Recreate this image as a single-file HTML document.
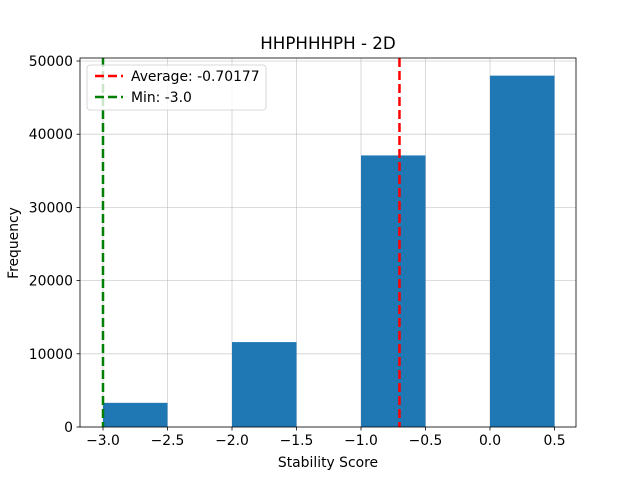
<!DOCTYPE html>
<html><head><meta charset="utf-8"><style>
body{margin:0;background:#fff;font-family:"DejaVu Sans","Liberation Sans",sans-serif;}
svg text{font-family:"DejaVu Sans","Liberation Sans",sans-serif;}
</style></head><body>
<svg id="c" width="640" height="480" xmlns="http://www.w3.org/2000/svg">
<rect width="640" height="480" fill="#fff"/>
</svg>
<script>
const binStarts=[-3.0,-2.0,-1.0,0.0];
const binWidth=0.5;
const frequencies=[3300,11600,37100,48000];
const xTicks=[-3.0,-2.5,-2.0,-1.5,-1.0,-0.5,0.0,0.5];
const xTickLabels=["−3.0","−2.5","−2.0","−1.5","−1.0","−0.5","0.0","0.5"];
const yTicks=[0,10000,20000,30000,40000,50000];
const avgValue=-0.70177;
const minValue=-3.0;

const L=80,R=576,T=58,B=427;
const x=v=>103+(v-(-3.0))*129;
const y=v=>427-v*0.00732;
const svg=document.getElementById('c');
const NS='http://www.w3.org/2000/svg';
function mk(tag,attrs,parent){const e=document.createElementNS(NS,tag);for(const k in attrs)e.setAttribute(k,attrs[k]);(parent||svg).appendChild(e);return e;}

xTicks.forEach((t,i)=>{
 const g=mk('line',{x1:x(t),x2:x(t),y1:T,y2:B,stroke:'#b0b0b0','stroke-width':0.8,'stroke-opacity':0.6});
 
 
});
yTicks.forEach(t=>{
 const g=mk('line',{x1:L,x2:R,y1:y(t),y2:y(t),stroke:'#b0b0b0','stroke-width':0.8,'stroke-opacity':0.6});
 
 
});
binStarts.forEach((s,i)=>{
 const b=mk('rect',{x:x(s),y:y(frequencies[i]),width:x(s+binWidth)-x(s),height:y(0)-y(frequencies[i]),fill:'#1f77b4'});
 
 
});
const al=mk('line',{x1:x(avgValue),x2:x(avgValue),y1:T,y2:B,stroke:'#ff0000','stroke-width':2.5,'stroke-dasharray':'9,4'});


const ml=mk('line',{x1:x(minValue),x2:x(minValue),y1:T,y2:B,stroke:'#008000','stroke-width':2.5,'stroke-dasharray':'9,4'});


const fr=mk('rect',{x:L,y:T,width:R-L,height:B-T,fill:'none',stroke:'#000','stroke-width':0.8});


xTicks.forEach((t,i)=>{
 mk('line',{x1:x(t),x2:x(t),y1:B,y2:B+3.5,stroke:'#000','stroke-width':0.8});
 const tx=mk('text',{x:x(t),y:B+18,'text-anchor':'middle','font-size':13.9});
 tx.textContent=xTickLabels[i];
 
 
});
yTicks.forEach(t=>{
 mk('line',{x1:L-3.5,x2:L,y1:y(t),y2:y(t),stroke:'#000','stroke-width':0.8});
 const tx=mk('text',{x:L-7,y:y(t)+5,'text-anchor':'end','font-size':13.9});
 tx.textContent=String(t);
 
 
});
</script>
<svg style="position:absolute;left:0;top:0" width="640" height="480" xmlns="http://www.w3.org/2000/svg">
<text x="328" y="49" text-anchor="middle" font-size="16.7">HHPHHHPH - 2D</text>
<text x="328" y="467" text-anchor="middle" font-size="13.9">Stability Score</text>
<text x="18" y="243" text-anchor="middle" font-size="13.9" transform="rotate(-90 18 243)">Frequency</text>
<g>
<rect x="87" y="65" width="179" height="45" rx="3" fill="#fff" fill-opacity="0.8" stroke="#ccc" stroke-width="0.8"/>
<line x1="95" x2="123" y1="76" y2="76" stroke="#ff0000" stroke-width="2.5" stroke-dasharray="9,4"/>
<text x="131" y="81" font-size="13.9">Average: -0.70177</text>
<line x1="95" x2="123" y1="97" y2="97" stroke="#008000" stroke-width="2.5" stroke-dasharray="9,4"/>
<text x="131" y="102" font-size="13.9">Min: -3.0</text>
</g>
</svg>
</body></html>
